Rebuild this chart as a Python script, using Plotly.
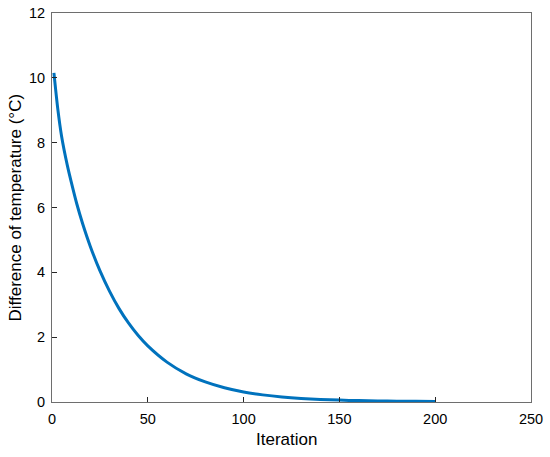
import plotly.graph_objects as go

iterations = [1, 3, 5, 8, 10, 13, 16, 20, 25, 30, 35, 40, 45, 50, 60, 70, 80,
              90, 100, 110, 120, 130, 140, 150, 160, 170, 180, 190, 200]
temp_diff = [10.15, 9.05, 8.2, 7.3, 6.8, 6.1, 5.5, 4.8, 4.05, 3.42, 2.88,
             2.43, 2.05, 1.73, 1.23, 0.87, 0.62, 0.44, 0.31, 0.22, 0.155, 0.11,
             0.08, 0.058, 0.043, 0.033, 0.026, 0.021, 0.017]

x_ticks = [0, 50, 100, 150, 200, 250]
y_ticks = [0, 2, 4, 6, 8, 10, 12]

FONT = "Liberation Sans, Arial, Helvetica"

fig = go.Figure()
fig.add_trace(go.Scatter(
    x=iterations, y=temp_diff, mode="lines",
    line=dict(color="#0072BD", width=3, shape="spline", smoothing=0.8),
    showlegend=False,
))

axis_common = dict(
    showgrid=False, zeroline=False, showline=True, linecolor="#6e6e6e",
    linewidth=1, mirror=True, ticks="inside", ticklen=5, tickcolor="#262626",
    tickwidth=1, automargin=False,
    tickfont=dict(family=FONT, size=14.5, color="#000"),
)

fig.update_layout(
    width=550, height=457,
    margin=dict(l=52, r=19, t=13, b=55),
    paper_bgcolor="white", plot_bgcolor="white",
    font=dict(family=FONT, size=14, color="#000"),
    xaxis=dict(range=[0, 250], tickvals=x_ticks, ticklabelstandoff=4, **axis_common),
    yaxis=dict(range=[0, 12], tickvals=y_ticks, ticklabelstandoff=3, **axis_common),
    annotations=[
        dict(text="Iteration", xref="paper", yref="paper", x=0.49, y=0,
             yshift=-37, xanchor="center", yanchor="middle", showarrow=False,
             font=dict(family=FONT, size=17, color="#000")),
        dict(text="Difference of temperature (°C)", xref="paper", yref="paper",
             x=0, y=0.5, xshift=-37, textangle=-90, xanchor="center",
             yanchor="middle", showarrow=False,
             font=dict(family=FONT, size=17, color="#000")),
    ],
)

fig.write_html("out.html", config={"displayModeBar": False},
               post_script="document.body.style.margin='0';document.body.style.overflow='hidden';")
